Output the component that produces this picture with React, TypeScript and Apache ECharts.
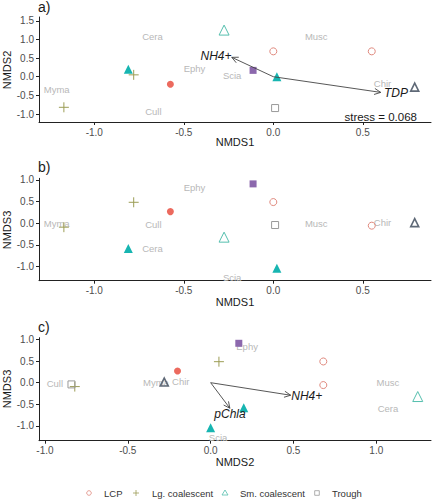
import React, { useEffect, useRef } from "react";
import * as echarts from "echarts";

// Site scores: [NMDS1, NMDS2, NMDS3]
const lcpOpen = [[0.0, 0.68, 0.49], [0.55, 0.68, -0.055]];
const lcpFilled = [[-0.575, -0.2, 0.27]];
const lgPlus = [[-0.78, 0.05, 0.485], [-1.17, -0.82, -0.09]];
const smOpen = [[-0.275, 1.25, -0.32]];
const smFilled = [[-0.81, 0.2, -0.58], [0.02, 0.0, -1.04]];
const troughOpen = [[0.01, -0.84, -0.04]];
const troughFilled = [[-0.113, 0.17, 0.91]];
const mixedSite = [[0.79, -0.28, 0.015]];

// Species scores
const speciesNames = ["Cera", "Musc", "Ephy", "Scia", "Chir", "Myma", "Cull"];
const speciesNMDS1 = [-0.675, 0.24, -0.44, -0.23, 0.61, -1.21, -0.67];
const speciesNMDS2 = [1.07, 1.07, 0.22, 0.045, -0.18, -0.33, -0.94];
const speciesNMDS3 = [-0.59, 0.0, 0.83, -1.255, 0.02, 0.0, -0.02];

// Environmental vectors
const vecNamesA = ["NH4+", "TDP"];
const vecTipsA = [[-0.232, 0.52], [0.6, -0.42]];
const vecLabelsA = [[-0.32, 0.555], [0.685, -0.44]];
const vecNamesC = ["NH4+", "pChla"];
const vecTipsC = [[0.483, -0.29], [0.116, -0.59]];
const vecLabelsC = [[0.58, -0.3], [0.117, -0.72]];

const ticksA_x = [-1, -0.5, 0, 0.5];
const ticksA_y = [-1, -0.5, 0, 0.5, 1, 1.5];
const ticksB_y = [-1, -0.5, 0, 0.5, 1];
const ticksC_x = [-1, -0.5, 0, 0.5, 1];
const ticksC_y = [-1, -0.5, 0, 0.5, 1];

const legendLabels = ["LCP", "Lg. coalescent", "Sm. coalescent", "Trough"];

const FONT = "Liberation Sans, Arial, sans-serif";
const plusPath = "path://M0,5L10,5M5,0L5,10";

function makeAxis(gridIndex: number, min: number, max: number, ticks: number[], isX: boolean) {
  return {
    type: "value",
    gridIndex,
    min,
    max,
    axisLine: { show: true, onZero: false, lineStyle: { color: "#222", width: 1 } },
    axisTick: { show: true, customValues: ticks, length: 3, lineStyle: { color: "#222", width: 1 } },
    axisLabel: {
      customValues: ticks,
      formatter: (v: number) => v.toFixed(1),
      color: "#4d4d4d",
      fontSize: 10,
      fontFamily: FONT,
      margin: isX ? 5 : 5,
    },
    splitLine: { show: false },
  };
}

const markerStyles = [
  { data: lcpOpen, symbol: "circle", size: 7, color: "rgba(0,0,0,0)", border: "#e0897e", bw: 1 },
  { data: lcpFilled, symbol: "circle", size: 7, color: "#ec6a5e", border: "#ec6a5e", bw: 0 },
  { data: lgPlus, symbol: plusPath, size: 10, color: "rgba(0,0,0,0)", border: "#9c9d55", bw: 1 },
  { data: smOpen, symbol: "triangle", size: 10, color: "rgba(0,0,0,0)", border: "#55bfae", bw: 1 },
  { data: smFilled, symbol: "triangle", size: 9, color: "#17b5b1", border: "#17b5b1", bw: 0 },
  { data: troughOpen, symbol: "rect", size: 7, color: "rgba(0,0,0,0)", border: "#9a9a9a", bw: 1 },
  { data: troughFilled, symbol: "rect", size: 7, color: "#8c68ad", border: "#8c68ad", bw: 0 },
  { data: mixedSite, symbol: "triangle", size: 8, color: "rgba(0,0,0,0)", border: "#5f6977", bw: 1.6 },
];

const panels = [
  { dx: 0, dy: 1, spX: speciesNMDS1, spY: speciesNMDS2 },
  { dx: 0, dy: 2, spX: speciesNMDS1, spY: speciesNMDS3 },
  { dx: 1, dy: 2, spX: speciesNMDS2, spY: speciesNMDS3 },
];

function arrowSeries(idx: number, tips: number[][]) {
  return {
    type: "custom",
    xAxisIndex: idx,
    yAxisIndex: idx,
    data: tips,
    silent: true,
    z: 5,
    renderItem: (params: any, api: any) => {
      const o = api.coord([0, 0]);
      const t = api.coord([api.value(0), api.value(1)]);
      const a = Math.atan2(t[1] - o[1], t[0] - o[0]);
      const L = 7;
      const th = Math.PI / 7;
      const p1 = [t[0] - L * Math.cos(a - th), t[1] - L * Math.sin(a - th)];
      const p2 = [t[0] - L * Math.cos(a + th), t[1] - L * Math.sin(a + th)];
      return {
        type: "group",
        children: [
          { type: "line", shape: { x1: o[0], y1: o[1], x2: t[0], y2: t[1] }, style: { stroke: "#444", lineWidth: 0.9 } },
          { type: "polyline", shape: { points: [p1, t, p2] }, style: { stroke: "#444", fill: "none", lineWidth: 0.9 } },
        ],
      };
    },
  };
}

function textSeries(idx: number, xs: number[], ys: number[], names: string[], color: string, size: number, italic: boolean, z: number) {
  return {
    type: "custom",
    xAxisIndex: idx,
    yAxisIndex: idx,
    data: xs.map((x, i) => [x, ys[i]]),
    silent: true,
    z,
    renderItem: (params: any, api: any) => {
      const p = api.coord([api.value(0), api.value(1)]);
      return {
        type: "text",
        x: p[0],
        y: p[1],
        style: {
          text: names[params.dataIndex],
          fill: color,
          fontSize: size,
          fontFamily: FONT,
          fontStyle: italic ? "italic" : "normal",
          align: "center",
          verticalAlign: "middle",
        },
      };
    },
  };
}

export default function App() {
  const ref = useRef<HTMLDivElement>(null);
  useEffect(() => {
    if (!ref.current) return;
    const chart = echarts.init(ref.current, null, { renderer: "svg" });
    const series: any[] = [];
    panels.forEach((p, idx) => {
      series.push(textSeries(idx, p.spX, p.spY, speciesNames, "#b8b8b8", 9.5, false, 1));
      markerStyles.forEach((m) => {
        series.push({
          type: "scatter",
          xAxisIndex: idx,
          yAxisIndex: idx,
          symbol: m.symbol,
          symbolSize: m.size,
          data: m.data.map((r) => [r[p.dx], r[p.dy]]),
          itemStyle: { color: m.color, borderColor: m.border, borderWidth: m.bw, opacity: 1 },
          z: 3,
        });
      });
    });
    series.push(arrowSeries(0, vecTipsA));
    series.push(textSeries(0, vecLabelsA.map((v) => v[0]), vecLabelsA.map((v) => v[1]), vecNamesA, "#1a1a1a", 12, true, 6));
    series.push(arrowSeries(2, vecTipsC));
    series.push(textSeries(2, vecLabelsC.map((v) => v[0]), vecLabelsC.map((v) => v[1]), vecNamesC, "#1a1a1a", 12, true, 6));

    const legendY = 493;
    const legendSymX = [89, 136, 225, 317];
    const legendTextX = [104, 152, 240, 332];
    const legendColors = ["#e0897e", "#9c9d55", "#55bfae", "#9a9a9a"];
    const graphics: any[] = [];
    legendLabels.forEach((lab, i) => {
      graphics.push({ type: "text", x: legendTextX[i], y: legendY, style: { text: lab, fill: "#333", fontSize: 9.5, fontFamily: FONT, align: "left", verticalAlign: "middle" } });
    });
    graphics.push({ type: "circle", x: legendSymX[0], y: legendY, shape: { cx: 0, cy: 0, r: 2.3 }, style: { fill: "none", stroke: legendColors[0], lineWidth: 0.8 } });
    graphics.push({ type: "line", x: legendSymX[1], y: legendY, shape: { x1: -3, y1: 0, x2: 3, y2: 0 }, style: { stroke: legendColors[1], lineWidth: 0.8 } });
    graphics.push({ type: "line", x: legendSymX[1], y: legendY, shape: { x1: 0, y1: -3, x2: 0, y2: 3 }, style: { stroke: legendColors[1], lineWidth: 0.8 } });
    graphics.push({ type: "polygon", x: legendSymX[2], y: legendY, shape: { points: [[0, -3], [3, 2], [-3, 2]] }, style: { fill: "none", stroke: legendColors[2], lineWidth: 0.8 } });
    graphics.push({ type: "rect", x: legendSymX[3], y: legendY, shape: { x: -2.3, y: -2.3, width: 4.6, height: 4.6 }, style: { fill: "none", stroke: legendColors[3], lineWidth: 0.8 } });

    const titleStyle = { fill: "#1a1a1a", fontSize: 11, fontFamily: FONT, align: "center", verticalAlign: "middle" };
    graphics.push({ type: "text", x: 235, y: 142, style: { ...titleStyle, text: "NMDS1" } });
    graphics.push({ type: "text", x: 235, y: 302, style: { ...titleStyle, text: "NMDS1" } });
    graphics.push({ type: "text", x: 235, y: 462, style: { ...titleStyle, text: "NMDS2" } });
    graphics.push({ type: "text", x: 7, y: 70, rotation: Math.PI / 2, style: { ...titleStyle, text: "NMDS2" } });
    graphics.push({ type: "text", x: 7, y: 230, rotation: Math.PI / 2, style: { ...titleStyle, text: "NMDS3" } });
    graphics.push({ type: "text", x: 7, y: 389, rotation: Math.PI / 2, style: { ...titleStyle, text: "NMDS3" } });
    const panelStyle = { fill: "#1a1a1a", fontSize: 14, fontFamily: FONT, align: "left", verticalAlign: "middle" };
    graphics.push({ type: "text", x: 38, y: 7, style: { ...panelStyle, text: "a)" } });
    graphics.push({ type: "text", x: 38, y: 167, style: { ...panelStyle, text: "b)" } });
    graphics.push({ type: "text", x: 38, y: 327, style: { ...panelStyle, text: "c)" } });
    graphics.push({ type: "text", x: 417, y: 117, style: { fill: "#1a1a1a", fontSize: 11.5, fontFamily: FONT, align: "right", verticalAlign: "middle", text: "stress = 0.068" } });

    chart.setOption({
      animation: false,
      backgroundColor: "#ffffff",
      grid: [
        { left: 39, top: 17, width: 392, height: 105 },
        { left: 39, top: 178.3, width: 392, height: 102.4 },
        { left: 39, top: 337.7, width: 392, height: 103 },
      ],
      xAxis: [
        makeAxis(0, -1.309, 0.881, ticksA_x, true),
        makeAxis(1, -1.309, 0.881, ticksA_x, true),
        makeAxis(2, -1.036, 1.33, ticksC_x, true),
      ],
      yAxis: [
        makeAxis(0, -1.214, 1.601, ticksA_y, false),
        makeAxis(1, -1.326, 1.039, ticksB_y, false),
        makeAxis(2, -1.34, 1.039, ticksC_y, false),
      ],
      series,
      graphic: graphics,
    });
    return () => chart.dispose();
  }, []);
  return <div ref={ref} style={{ position: "absolute", left: 0, top: 0, width: 434, height: 500 }} />;
}
